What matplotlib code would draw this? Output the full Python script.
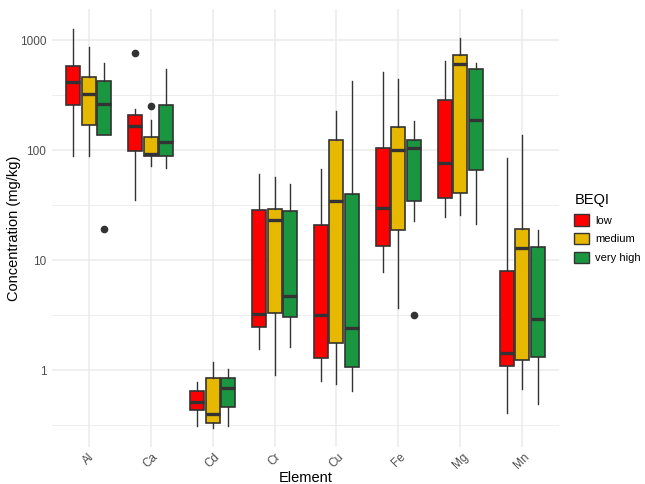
import numpy as np
import matplotlib.pyplot as plt
from matplotlib.patches import Patch

plt.rcParams['font.family'] = ['Liberation Sans', 'DejaVu Sans']

# datos (mg/kg)
elements = ["Al", "Ca", "Cd", "Cr", "Cu", "Fe", "Mg", "Mn"]
groups = ["low", "medium", "very high"]
colors = ["#FF0000", "#E6B800", "#1A9641"]

# por grupo: una lista por elemento
whislo = {
    "low":       [89, 35, 0.31, 1.56, 0.79, 7.9, 24.8, 0.41],
    "medium":    [89, 72, 0.30, 0.91, 0.75, 3.7, 25.8, 0.68],
    "very high": [139, 69, 0.31, 1.63, 0.64, 22.9, 21.2, 0.49],
}
q1 = {
    "low":       [260, 99, 0.433, 2.49, 1.29, 13.4, 37, 1.09],
    "medium":    [170, 88, 0.332, 3.32, 1.76, 18.9, 41.2, 1.24],
    "very high": [139, 88, 0.464, 3.03, 1.08, 34.6, 66.2, 1.32],
}
med = {
    "low":       [415, 167, 0.518, 3.25, 3.2, 29.9, 77, 1.44],
    "medium":    [325, 92.5, 0.403, 23.4, 34.8, 100, 605, 12.9],
    "very high": [265, 120, 0.695, 4.77, 2.44, 106, 189, 2.93],
}
q3 = {
    "low":       [587, 208, 0.644, 28.8, 20.8, 106, 287, 7.94],
    "medium":    [464, 133, 0.846, 29.4, 125, 163, 740, 19.4],
    "very high": [424, 258, 0.846, 28.2, 39.8, 123, 549, 13.2],
}
whishi = {
    "low":       [1275, 237, 0.778, 60.9, 67.6, 515, 648, 85],
    "medium":    [863, 189, 1.18, 57.2, 228, 445, 1042, 139],
    "very high": [618, 552, 1.02, 49.7, 427, 184, 618, 18.8],
}
outliers = {
    "low":       [[], [767], [], [], [], [], [], []],
    "medium":    [[], [251], [], [], [], [], [], []],
    "very high": [[19.4], [], [], [], [], [3.18], [], []],
}

fig = plt.figure(figsize=(6.45, 4.84), dpi=100)
ax = fig.add_axes([0.0803, 0.0764, 0.7867, 0.905])

edge = "#333333"
x = np.arange(1, len(elements) + 1)
for k, g in enumerate(groups):
    stats = []
    for i in range(len(elements)):
        stats.append(dict(whislo=whislo[g][i], q1=q1[g][i], med=med[g][i],
                          q3=q3[g][i], whishi=whishi[g][i], fliers=outliers[g][i]))
    pos = x + (k - 1) * 0.25
    ax.bxp(stats, positions=pos, widths=0.225, patch_artist=True,
           showcaps=False, manage_ticks=False,
           boxprops=dict(facecolor=colors[k], edgecolor=edge, linewidth=1.2),
           medianprops=dict(color=edge, linewidth=2.4),
           whiskerprops=dict(color=edge, linewidth=1.0),
           flierprops=dict(marker='o', markerfacecolor=edge, markeredgecolor=edge,
                           markersize=4.5),
           zorder=3)

ax.set_yscale('log')
ax.set_ylim(0.2, 1932)
ax.set_xlim(0.4, 8.6)
ax.set_yticks([1, 10, 100, 1000])
ax.set_yticklabels(["1", "10", "100", "1000"])
ax.set_yticks([10**-0.5, 10**0.5, 10**1.5, 10**2.5], minor=True)
ax.yaxis.set_minor_formatter(plt.NullFormatter())
ax.set_xticks(x)
ax.set_xticklabels(elements, rotation=45, ha='center', va='top')

ax.grid(True, which='major', color='#EBEBEB', linewidth=1.1, zorder=0)
ax.grid(True, which='minor', axis='y', color='#EBEBEB', linewidth=0.6, zorder=0)
ax.set_axisbelow(True)
for s in ax.spines.values():
    s.set_visible(False)
ax.tick_params(which='both', length=0, labelsize=8.5, labelcolor='#4D4D4D')
ax.tick_params(axis='x', pad=3)
ax.tick_params(axis='y', pad=4)

ax.set_xlabel("Element", fontsize=10.5, va='center')
ax.set_ylabel("Concentration (mg/kg)", fontsize=10.5, va='center')
ax.xaxis.set_label_coords(0.5, -0.071)
ax.yaxis.set_label_coords(-0.074, 0.5)

handles = [Patch(facecolor=c, edgecolor=edge, linewidth=1.0) for c in colors]
leg = ax.legend(handles, groups, title="BEQI", loc='center left',
                bbox_to_anchor=(1.01, 0.5), frameon=False, fontsize=8,
                title_fontsize=10.5, handlelength=1.3, handleheight=1.2,
                labelspacing=0.65, handletextpad=0.6)
leg._legend_box.align = "left"

fig.savefig("out.png", dpi=100)
